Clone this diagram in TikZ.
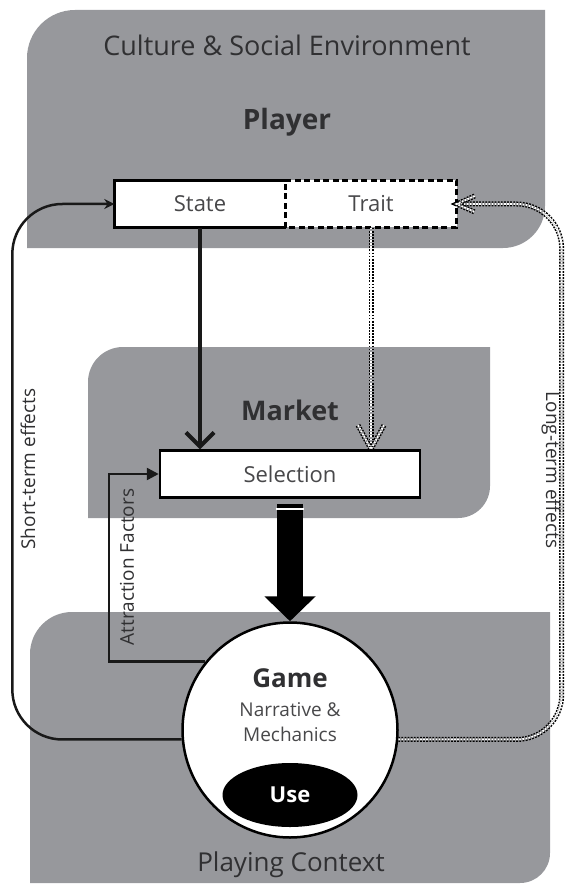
\documentclass[tikz,border=0pt]{standalone}
\usepackage{fontspec}
\setmainfont{Open Sans}
\usetikzlibrary{arrows.meta,shapes.geometric,calc}

\definecolor{panelgray}{RGB}{151,152,156}
\definecolor{inkgray}{RGB}{48,48,50}
\definecolor{boxink}{RGB}{72,72,74}

\tikzset{
  panel/.style={fill=panelgray},
  boxnode/.style={minimum width=171pt, minimum height=47pt, inner sep=0pt, fill=white, text=boxink, font=\fontsize{22}{25}\selectfont},
  solidlink/.style={line width=2.5pt, draw=black!90},
  dotlink/.style={draw=black, line width=1.5pt, double=white, double distance=2pt, dash pattern=on 1.8pt off 1.3pt},
  rotlbl/.style={text=inkgray, font=\fontsize{19}{22}\selectfont}
}

\begin{document}
\begin{tikzpicture}[x=1pt,y=-1pt]
        \useasboundingbox (0,0) rectangle (566,885);
        % the three gray panels
        \fill[panel] (27,248) -- (27,58) arc[start angle=180,end angle=270,radius=48] -- (545,10) -- (545,206) arc[start angle=0,end angle=90,radius=42] -- cycle;
        \fill[panel] (88,518) -- (88,382) arc[start angle=180,end angle=270,radius=35] -- (490,347) -- (490,486) arc[start angle=0,end angle=90,radius=32] -- cycle;
        \fill[panel] (30,883) -- (30,654) arc[start angle=180,end angle=270,radius=42] -- (550,612) -- (550,853) arc[start angle=0,end angle=90,radius=30] -- cycle;
        \node[text=inkgray, font=\fontsize{27}{32}\selectfont] (culture) at (287,45) {Culture \& Social Environment};
        \node[text=inkgray, font=\bfseries\fontsize{28}{32}\selectfont] (player) at (287,122) {Player};
        \node[text=inkgray, font=\bfseries\fontsize{27}{32}\selectfont] (market) at (290,410) {Market};
        \node[text=inkgray, font=\fontsize{26}{30}\selectfont] (context) at (291,865) {Playing Context};
        % state / trait
        \node[boxnode] (state) at (200,204) {State};
        \node[boxnode] (trait) at (371,204) {Trait};
        \draw[line width=2.5pt] (state.north east) -- (state.north west) -- (state.south west) -- (state.south east);
        \draw[line width=2.5pt, dash pattern=on 6pt off 3.5pt] (trait.south west) rectangle (trait.north east);
        \node[boxnode, minimum width=260pt, draw, line width=2.5pt] (selection) at (290,474) {Selection};
        % game circle
        \node[circle, fill=white, draw, line width=2.5pt, minimum size=215pt] (game) at (290,730) {};
        \node[text=inkgray, font=\bfseries\fontsize{26}{30}\selectfont] (gamename) at (290,678) {Game};
        \node[text=boxink, font=\fontsize{19}{25}\selectfont, align=center] (gamedesc) at (290,722) {Narrative \&\\Mechanics};
        \node[ellipse, fill=black, minimum width=135pt, minimum height=64pt, text=white, font=\bfseries\fontsize{22}{26}\selectfont] (use) at (290,795) {Use};
        % links
        \draw[solidlink, line width=4pt, -{Straight Barb[length=14pt,width=28pt]}] (state.south) -- (state.south |- selection.north);
        \draw[dotlink] (trait.south) -- (trait.south |- selection.north) coordinate (traittip);
        \draw[dotlink] ($(traittip)+(-13,-24)$) -- (traittip) -- ($(traittip)+(13,-24)$);
        \draw[black, line width=26pt, -{Triangle[width=50pt,length=25pt]}, shorten <=5pt] (selection.south) -- (game.north);
        \draw[white, line width=1.5pt] ($(selection.south)+(-14,10)$) -- ++(28,0);
        \draw[solidlink, -{Triangle[length=12pt,width=12pt]}] (game.141) -| ($(selection.west)+(-50,0)$) -- (selection.west);
        \draw[solidlink, rounded corners=50pt, -{Stealth[length=10pt,width=10pt]}] (game.185) -| ($(state.west)+(-102,0)$) -- (state.west);
        \draw[dotlink, rounded corners=45pt] (game.355) -| ($(trait.east)+(105,0)$) -- (trait.east) coordinate (longtip);
        \draw[dotlink] ($(longtip)+(18,-8)$) -- (longtip) -- ($(longtip)+(18,8)$);
        \node[rotlbl, rotate=90] (shortlbl) at (28,469) {Short-term effects};
        \node[rotlbl, rotate=90] (attrlbl) at (127,567) {Attraction Factors};
        \node[rotlbl, rotate=-90] (longlbl) at (551,470) {Long-term effects};
\end{tikzpicture}
\end{document}
